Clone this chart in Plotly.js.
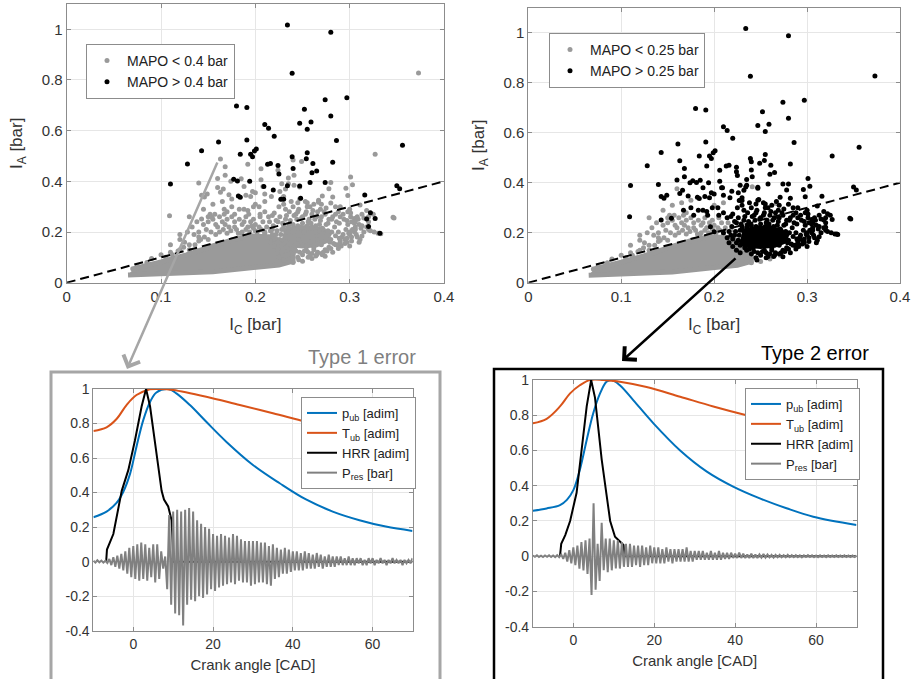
<!DOCTYPE html>
<html><head><meta charset="utf-8">
<script src="https://cdn.plot.ly/plotly-3.0.1.min.js"></script>
<style>html,body{margin:0;padding:0;background:#fff}#chart{width:912px;height:679px}</style>
</head><body><div id="chart"></div>
<script>
// ---------- scatter data: I_C [bar] vs I_A [bar] ----------
// MAPO > 0.4 bar (black in both panels)
const highIC = [0.234,0.280,0.239,0.180,0.191,0.274,0.297,0.252,0.280,0.247,0.259,0.255,0.210,0.214,0.220,0.191,0.286,0.356,0.161,0.143,0.128,0.110,0.184,0.195,0.197,0.199,0.201,0.213,0.216,0.224,0.240,0.254,0.255,0.261,0.260,0.265,0.282,0.239,0.225,0.177,0.181,0.194,0.209,0.234,0.247,0.258,0.274,0.219,0.182,0.184,0.227,0.230,0.248,0.316,0.350,0.353,0.322,0.318,0.327,0.320,0.332];
const highIA = [1.017,0.988,0.826,0.697,0.691,0.722,0.730,0.684,0.658,0.629,0.634,0.605,0.624,0.609,0.578,0.563,0.561,0.542,0.555,0.521,0.468,0.389,0.507,0.507,0.497,0.520,0.528,0.467,0.470,0.462,0.451,0.489,0.513,0.470,0.434,0.441,0.475,0.497,0.429,0.408,0.401,0.400,0.380,0.383,0.382,0.395,0.395,0.366,0.342,0.337,0.329,0.329,0.333,0.346,0.383,0.371,0.276,0.251,0.253,0.222,0.195];
// 0.25 < MAPO < 0.4 bar
const midIC = [0.373,0.327,0.347,0.163,0.168,0.192,0.206,0.224,0.140,0.160,0.168,0.185,0.174,0.206,0.143,0.146,0.149,0.163,0.166,0.172,0.188,0.190,0.195,0.197,0.200,0.208,0.210,0.217,0.226,0.228,0.232,0.235,0.109,0.143,0.154,0.167,0.175,0.178,0.183,0.188,0.192,0.193,0.198,0.204,0.205,0.210,0.214,0.218,0.220,0.196,0.200,0.210,0.214,0.216,0.220,0.224,0.228,0.240,0.249,0.241,0.235,0.301,0.280,0.247,0.303,0.296,0.278,0.271,0.282,0.298,0.230,0.247,0.253,0.267,0.280,0.311,0.269,0.288,0.301,0.313,0.318,0.325,0.305,0.318,0.322,0.326,0.330,0.333,0.313,0.346,0.274,0.246,
 0.225,0.230,0.232,0.236,0.240,0.243,0.246,0.250,0.254,0.258,0.260,0.263,0.266,0.270,0.274,0.278,0.282,0.286,0.290,0.294,0.298,0.302,0.306,0.310,0.296,0.300,0.305,0.308,0.292,0.288,0.284,0.290,0.295,0.285,0.280,0.276,0.272,0.268,0.264,0.260,0.256,0.252,0.248,0.244,0.240,0.236,0.232,0.228,0.224,0.222,0.226,0.230,0.234,0.238,0.242,0.246,0.250,0.254,0.258,0.262,0.266,0.270,0.274,0.278,0.282,0.270,0.260,0.250,0.240,0.235,0.245,0.288,0.300,0.310,0.315,0.312,0.320,0.315,0.308,0.298,0.285,0.275,0.262,0.255,0.245,0.238,0.228,0.295,0.302,0.306,0.256,0.264,
 0.216,0.219,0.222,0.226,0.229,0.233,0.237,0.241,0.245,0.249,0.253,0.257,0.261,0.265,0.269,0.273,0.277,0.281,0.285,0.289,0.293,0.297,0.301,0.305,0.309,0.313,0.303,0.299,0.307,0.311,0.297,0.293,0.289,0.285,0.281,0.277,0.283,0.279,0.287,0.291,0.297,0.302,0.276,0.272,0.266,0.262,0.256,0.252,0.247,0.243,0.238,0.233,0.228,0.224,0.220,0.218,0.223,0.227,0.231,0.271,0.275,0.268,0.264,0.259,0.255,0.250,0.245,0.240,0.235,0.230,0.258,0.265,0.280,0.290,0.300,0.306,0.300,0.290,0.270,0.255,0.320,0.320];
const midIA = [0.827,0.507,0.255,0.488,0.457,0.467,0.450,0.444,0.393,0.411,0.424,0.410,0.400,0.406,0.345,0.338,0.350,0.357,0.370,0.347,0.380,0.345,0.340,0.360,0.355,0.380,0.350,0.340,0.360,0.390,0.370,0.390,0.264,0.251,0.258,0.290,0.300,0.270,0.290,0.290,0.285,0.270,0.300,0.300,0.270,0.280,0.260,0.265,0.275,0.224,0.204,0.200,0.180,0.160,0.145,0.130,0.120,0.484,0.478,0.424,0.413,0.417,0.395,0.378,0.386,0.373,0.371,0.342,0.338,0.344,0.340,0.330,0.320,0.325,0.314,0.307,0.290,0.280,0.275,0.270,0.285,0.270,0.253,0.220,0.205,0.200,0.195,0.193,0.184,0.258,0.104,0.091,
 0.300,0.310,0.290,0.280,0.300,0.270,0.290,0.260,0.280,0.300,0.270,0.250,0.280,0.260,0.270,0.250,0.260,0.240,0.260,0.250,0.230,0.240,0.220,0.230,0.210,0.190,0.200,0.180,0.180,0.200,0.220,0.165,0.155,0.150,0.170,0.190,0.210,0.230,0.200,0.220,0.240,0.200,0.220,0.250,0.200,0.230,0.250,0.210,0.240,0.190,0.170,0.155,0.180,0.160,0.140,0.170,0.150,0.130,0.160,0.140,0.170,0.150,0.130,0.140,0.120,0.115,0.115,0.110,0.115,0.130,0.100,0.135,0.145,0.160,0.200,0.215,0.240,0.255,0.260,0.280,0.300,0.295,0.310,0.300,0.315,0.320,0.330,0.170,0.180,0.210,0.100,0.105,
 0.205,0.225,0.245,0.260,0.235,0.265,0.245,0.265,0.280,0.255,0.270,0.250,0.285,0.260,0.245,0.280,0.235,0.250,0.270,0.235,0.270,0.245,0.260,0.235,0.250,0.225,0.210,0.195,0.190,0.170,0.175,0.190,0.175,0.185,0.200,0.205,0.155,0.160,0.150,0.145,0.160,0.165,0.125,0.120,0.120,0.130,0.120,0.125,0.120,0.125,0.135,0.140,0.150,0.160,0.175,0.190,0.205,0.190,0.210,0.215,0.230,0.205,0.225,0.235,0.225,0.235,0.225,0.230,0.220,0.225,0.105,0.110,0.135,0.155,0.200,0.240,0.290,0.300,0.310,0.315,0.260,0.210];
// MAPO < 0.25 bar (gray in both panels)
const lowIC = [0.110,0.120,0.125,0.130,0.135,0.140,0.142,0.145,0.148,0.150,0.152,0.155,0.157,0.160,0.162,0.165,0.167,0.170,0.172,0.175,0.178,0.180,0.183,0.186,0.190,0.192,0.195,0.198,0.200,0.204,0.208,0.212,0.215,0.218,0.120,0.128,0.133,0.138,0.110,0.100,0.090,0.085,0.075,0.070,0.160,0.241,0.267,0.145,0.155,0.165,0.175,0.130,0.200,0.210,0.225,0.230,0.235,0.240,0.250,0.260,0.271,0.120,0.140,0.185,
 0.105,0.112,0.118,0.124,0.130,0.136,0.140,0.146,0.150,0.153,0.158,0.162,0.166,0.170,0.174,0.178,0.182,0.186,0.190,0.194,0.198,0.202,0.206,0.210,0.158,0.168,0.188,0.150,0.170,0.205];
const lowIA = [0.120,0.130,0.160,0.150,0.190,0.200,0.170,0.230,0.210,0.240,0.270,0.250,0.270,0.220,0.260,0.240,0.270,0.250,0.220,0.260,0.240,0.210,0.250,0.230,0.260,0.220,0.240,0.250,0.230,0.220,0.240,0.220,0.240,0.210,0.190,0.200,0.220,0.240,0.150,0.110,0.095,0.080,0.065,0.055,0.376,0.384,0.317,0.290,0.310,0.320,0.330,0.260,0.310,0.320,0.100,0.090,0.110,0.080,0.085,0.095,0.110,0.170,0.180,0.195,
 0.100,0.110,0.125,0.140,0.130,0.150,0.165,0.180,0.170,0.200,0.190,0.200,0.210,0.195,0.205,0.220,0.195,0.200,0.210,0.200,0.215,0.200,0.210,0.195,0.230,0.230,0.240,0.260,0.280,0.260];
// outline of the densest part of each cloud
const lowCoreIC = [0.065,0.106,0.155,0.198,0.225,0.240,0.240,0.235,0.215,0.195,0.175,0.155,0.127,0.100,0.071];
const lowCoreIA = [0.030,0.036,0.043,0.060,0.070,0.085,0.120,0.155,0.180,0.185,0.168,0.145,0.110,0.082,0.055];
const midCoreIC = [0.228,0.235,0.250,0.265,0.275,0.278,0.270,0.255,0.240,0.230];
const midCoreIA = [0.170,0.150,0.145,0.150,0.165,0.190,0.210,0.218,0.215,0.200];
// reference line I_A = I_C
const refIC = [0, 0.4];
const refIA = [0, 0.4];

// ---------- cycle traces vs crank angle [CAD] ----------
const pLeftCA = [-10,-6.7,-4.2,-2.5,-0.8,0.8,2.5,4.2,5.8,8.75,10.8,14.2,18.3,23.3,30,36.7,43.3,50,56.7,63.3,70];
const pLeft   = [0.257,0.29,0.34,0.405,0.51,0.666,0.82,0.925,0.98,1.0,0.975,0.907,0.81,0.695,0.56,0.454,0.36,0.29,0.24,0.203,0.178];
const tLeftCA = [-10,-6.7,-4.2,-1.7,0.8,4.2,6.7,10,18.3,26.7,35,43.3,51.7,60,70];
const tLeft   = [0.757,0.778,0.826,0.907,0.965,0.998,1.0,0.994,0.955,0.907,0.86,0.81,0.766,0.728,0.689];
const hrrLeftCA = [-6.8,-6.6,-5.0,-2.9,-1.25,0.4,2.1,3.2,4.2,5.4,7.1,7.7,8.75,9.6,10.1,70];
const hrrLeft   = [0,0.07,0.16,0.41,0.53,0.70,0.9,1.0,0.9,0.7,0.41,0.36,0.32,0.24,0,0];
// P_res sampled every 0.5 CAD from -10 to 70
const presLeft = [
 0.005,-0.005,0.008,-0.004,0.006,-0.006,0.005,-0.008,
 0.015,-0.02,0.025,-0.03,0.035,-0.04,0.045,-0.05,
 0.06,-0.07,0.08,-0.09,0.09,-0.1,0.1,-0.11,
 0.11,-0.1,0.1,-0.11,0.08,-0.09,0.1,-0.12,
 0.1,-0.1,0.06,-0.04,0.03,-0.16,0.27,-0.25,
 0.29,-0.3,0.3,-0.31,0.29,-0.37,0.3,-0.25,
 0.31,-0.22,0.29,-0.23,0.24,-0.2,0.22,-0.21,
 0.2,-0.19,0.19,-0.16,0.16,-0.17,0.15,-0.15,
 0.16,-0.14,0.15,-0.13,0.14,-0.12,0.16,-0.13,
 0.15,-0.11,0.13,-0.12,0.12,-0.12,0.12,-0.14,
 0.12,-0.13,0.12,-0.12,0.11,-0.12,0.11,-0.13,
 0.09,-0.14,0.1,-0.1,0.08,-0.09,0.07,-0.07,
 0.08,-0.07,0.07,-0.06,0.06,-0.05,0.06,-0.05,
 0.05,-0.05,0.06,-0.04,0.05,-0.04,0.04,-0.04,
 0.05,-0.03,0.04,-0.04,0.03,-0.03,0.04,-0.03,
 0.03,-0.03,0.03,-0.02,0.03,-0.02,0.02,-0.02,
 0.03,-0.02,0.02,-0.02,0.02,-0.01,0.02,-0.02,
 0.01,-0.02,0.02,-0.01,0.02,-0.02,0.01,-0.01,
 0.02,-0.01,0.01,-0.02,0.01,-0.01,0.02,-0.01,
 0.01,-0.01,0.01,-0.02,0.01,-0.01,0.01,-0.01,
 0.02];

const pRightCA = [-10,-6.6,-3.3,-1.6,0,1.6,3.3,4.9,6.6,8.2,9.5,11.5,14.8,19.8,26.4,33,39.5,46.1,52.7,59.3,70];
const pRight   = [0.258,0.271,0.29,0.32,0.375,0.49,0.66,0.81,0.924,0.99,1.0,0.97,0.886,0.754,0.6,0.48,0.395,0.328,0.272,0.224,0.177];
const tRightCA = [-10,-6.6,-3.3,-0.8,1.6,4.1,7.4,11.5,18.1,26.4,34.6,42.8,51,59.3,70];
const tRight   = [0.754,0.78,0.85,0.924,0.97,1.0,1.0,0.99,0.96,0.905,0.85,0.8,0.754,0.72,0.688];
const hrrRightCA = [-3.3,-3.0,-2.0,-0.8,0.8,1.8,3.3,4.4,5.35,6.2,7.0,8.2,9.1,10.3,12.4,12.7,70];
const hrrRight   = [0,0.07,0.12,0.2,0.36,0.55,0.85,1.0,0.9,0.72,0.55,0.35,0.2,0.11,0.064,0,0];
const presRight = [
 0.004,-0.003,0.005,-0.004,0.003,-0.005,0.004,-0.003,
 0.005,-0.004,0.004,-0.005,0.006,-0.006,0.01,-0.015,
 0.02,-0.03,0.035,-0.04,0.05,-0.05,0.06,-0.07,
 0.08,-0.08,0.09,-0.1,0.1,-0.22,0.3,-0.19,
 0.07,-0.14,0.19,-0.08,0.1,-0.09,0.1,-0.08,
 0.09,-0.07,0.09,-0.07,0.08,-0.06,0.07,-0.06,
 0.07,-0.06,0.06,-0.05,0.06,-0.06,0.06,-0.05,
 0.05,-0.05,0.06,-0.04,0.05,-0.04,0.05,-0.04,
 0.04,-0.04,0.05,-0.03,0.04,-0.04,0.04,-0.03,
 0.04,-0.03,0.04,-0.03,0.05,-0.03,0.03,-0.03,
 0.03,-0.02,0.03,-0.02,0.03,-0.02,0.02,-0.02,
 0.03,-0.02,0.02,-0.02,0.03,-0.02,0.02,-0.015,
 0.02,-0.015,0.02,-0.01,0.015,-0.01,0.02,-0.01,
 0.015,-0.01,0.01,-0.01,0.015,-0.01,0.01,-0.01,
 0.01,-0.008,0.012,-0.008,0.01,-0.006,0.008,-0.008,
 0.008,-0.006,0.008,-0.006,0.006,-0.006,0.008,-0.005,
 0.006,-0.005,0.006,-0.005,0.005,-0.006,0.005,-0.004,
 0.006,-0.004,0.005,-0.005,0.004,-0.005,0.005,-0.004,
 0.004,-0.005,0.005,-0.004,0.004,-0.004,0.005,-0.004,
 0.004,-0.004,0.005,-0.004,0.004,-0.005,0.004,-0.004,
 0.004];

const bottomYTicks = [-0.4,-0.2,0,0.2,0.4,0.6,0.8,1];
const bottomYLabels = ['-0.4','-0.2','0','0.2','0.4','0.6','0.8','1'];

// ---------- drawing ----------
const W = 912, H = 679;
const px = v => v / W;
const py = v => 1 - v / H;
const GRAY = '#9a9a9a';
const FONT = 'Liberation Sans, Arial, sans-serif';
const ms = 5;

function corePoly(xs, ys, color, xa, ya) {
  return {x: xs, y: ys, xaxis: xa, yaxis: ya, type: 'scatter', mode: 'lines', fill: 'toself',
    fillcolor: color, line: {color: color, width: 5}, showlegend: false, hoverinfo: 'skip'};
}
function dots(xs, ys, color, name, xa, ya, lg) {
  return {x: xs, y: ys, xaxis: xa, yaxis: ya, type: 'scatter', mode: 'markers', name: name,
    marker: {color: color, size: ms}, legend: lg};
}
function refLine(xa, ya) {
  return {x: refIC, y: refIA, xaxis: xa, yaxis: ya, type: 'scatter', mode: 'lines',
    line: {color: '#000', width: 2, dash: '9px,5px'}, showlegend: false, hoverinfo: 'skip'};
}
function curve(xs, ys, color, name, xa, ya, lg, shape) {
  return {x: xs, y: ys, xaxis: xa, yaxis: ya, type: 'scatter', mode: 'lines', name: name,
    line: {color: color, width: 2, shape: shape || 'spline'}, legend: lg};
}
function pres(ys, xa, ya, lg) {
  return {y: ys, x0: -10, dx: 0.5, xaxis: xa, yaxis: ya, type: 'scatter', mode: 'lines',
    name: 'P<sub>res</sub> [bar]', line: {color: '#808080', width: 2}, legend: lg};
}

const traces = [
  // top-left
  corePoly(lowCoreIC, lowCoreIA, GRAY, 'x', 'y'),
  corePoly(midCoreIC, midCoreIA, GRAY, 'x', 'y'),
  dots(lowIC.concat(midIC), lowIA.concat(midIA), GRAY, 'MAPO < 0.4 bar', 'x', 'y', 'legend'),
  refLine('x', 'y'),
  dots(highIC, highIA, '#000', 'MAPO > 0.4 bar', 'x', 'y', 'legend'),
  // top-right
  corePoly(lowCoreIC, lowCoreIA, GRAY, 'x2', 'y2'),
  dots(lowIC, lowIA, GRAY, 'MAPO < 0.25 bar', 'x2', 'y2', 'legend2'),
  corePoly(midCoreIC, midCoreIA, '#000', 'x2', 'y2'),
  refLine('x2', 'y2'),
  dots(midIC.concat(highIC), midIA.concat(highIA), '#000', 'MAPO > 0.25 bar', 'x2', 'y2', 'legend2'),
  // bottom-left
  curve(pLeftCA, pLeft, '#0072BD', 'p<sub>ub</sub> [adim]', 'x3', 'y3', 'legend3'),
  curve(tLeftCA, tLeft, '#D95319', 'T<sub>ub</sub> [adim]', 'x3', 'y3', 'legend3'),
  curve(hrrLeftCA, hrrLeft, '#000', 'HRR [adim]', 'x3', 'y3', 'legend3', 'linear'),
  pres(presLeft, 'x3', 'y3', 'legend3'),
  // bottom-right
  curve(pRightCA, pRight, '#0072BD', 'p<sub>ub</sub> [adim]', 'x4', 'y4', 'legend4'),
  curve(tRightCA, tRight, '#D95319', 'T<sub>ub</sub> [adim]', 'x4', 'y4', 'legend4'),
  curve(hrrRightCA, hrrRight, '#000', 'HRR [adim]', 'x4', 'y4', 'legend4', 'linear'),
  pres(presRight, 'x4', 'y4', 'legend4')
];

const ax = {showline: true, mirror: 'ticks', linecolor: '#8c8c8c', linewidth: 1, ticks: 'inside',
  ticklen: 4, tickcolor: '#8c8c8c', showgrid: true, gridcolor: '#e6e6e6', zeroline: false,
  tickfont: {size: 15, color: '#333', family: FONT}};
const axB = Object.assign({}, ax, {tickfont: {size: 14, color: '#333', family: FONT}});
const titleFont = {size: 17, color: '#333', family: FONT};

const legendBase = {bgcolor: '#fff', bordercolor: '#8c8c8c', borderwidth: 1, xanchor: 'left', yanchor: 'top',
  font: {size: 14, color: '#222', family: FONT}, tracegroupgap: 0, itemwidth: 30};

const layout = {
  width: W, height: H, margin: {l: 0, r: 0, t: 0, b: 0},
  paper_bgcolor: '#fff', plot_bgcolor: '#fff', font: {family: FONT},
  xaxis: Object.assign({}, ax, {domain: [px(66.7), px(444)], range: [0, 0.4], tick0: 0, dtick: 0.1, anchor: 'y',
    title: {text: 'I<sub>C</sub> [bar]', font: titleFont, standoff: 14}}),
  yaxis: Object.assign({}, ax, {domain: [py(282.7), py(3.9)], range: [0, 1.1], tick0: 0, dtick: 0.2, anchor: 'x',
    title: {text: 'I<sub>A</sub> [bar]', font: titleFont, standoff: 14}}),
  xaxis2: Object.assign({}, ax, {domain: [px(528.3), px(900)], range: [0, 0.4], tick0: 0, dtick: 0.1, anchor: 'y2',
    title: {text: 'I<sub>C</sub> [bar]', font: titleFont, standoff: 14}}),
  yaxis2: Object.assign({}, ax, {domain: [py(282.7), py(7.7)], range: [0, 1.1], tick0: 0, dtick: 0.2, anchor: 'x2',
    title: {text: 'I<sub>A</sub> [bar]', font: titleFont, standoff: 14}}),
  xaxis3: Object.assign({}, axB, {domain: [px(93.4), px(412.5)], range: [-10, 70], tick0: 0, dtick: 20, anchor: 'y3',
    title: {text: 'Crank angle [CAD]', font: {size: 15, color: '#333', family: FONT}, standoff: 8}}),
  yaxis3: Object.assign({}, axB, {domain: [py(630.7), py(389)], range: [-0.4, 1], tickvals: bottomYTicks, ticktext: bottomYLabels, anchor: 'x3'}),
  xaxis4: Object.assign({}, axB, {domain: [px(532.9), px(856.5)], range: [-10, 70], tick0: 0, dtick: 20, anchor: 'y4',
    title: {text: 'Crank angle [CAD]', font: {size: 15, color: '#333', family: FONT}, standoff: 8}}),
  yaxis4: Object.assign({}, axB, {domain: [py(626.7), py(380)], range: [-0.4, 1], tickvals: bottomYTicks, ticktext: bottomYLabels, anchor: 'x4'}),
  legend: Object.assign({}, legendBase, {x: px(86), y: py(44)}),
  legend2: Object.assign({}, legendBase, {x: px(549), y: py(33)}),
  legend3: Object.assign({}, legendBase, {x: px(301), y: py(397), font: {size: 13, color: '#222', family: FONT}}),
  legend4: Object.assign({}, legendBase, {x: px(745), y: py(388), font: {size: 13, color: '#222', family: FONT}}),
  shapes: [
    {type: 'rect', xref: 'paper', yref: 'paper', x0: px(51), x1: px(440), y0: py(700), y1: py(372),
      line: {color: '#a6a6a6', width: 3}},
    {type: 'rect', xref: 'paper', yref: 'paper', x0: px(494), x1: px(883), y0: py(700), y1: py(369),
      line: {color: '#000', width: 2.5}}
  ],
  annotations: [
    {xref: 'paper', yref: 'paper', x: px(362), y: py(357), xanchor: 'center', yanchor: 'middle', showarrow: false,
      text: 'Type 1 error', font: {size: 20, color: '#7f7f7f', family: FONT}},
    {xref: 'paper', yref: 'paper', x: px(815), y: py(353), xanchor: 'center', yanchor: 'middle', showarrow: false,
      text: 'Type 2 error', font: {size: 20, color: '#000', family: FONT}},
    {xref: 'paper', yref: 'paper', x: px(127), y: py(369), ax: 91, ay: -208, text: '', showarrow: true,
      arrowcolor: '#a6a6a6', arrowwidth: 2.5, arrowhead: 4, arrowsize: 1.4},
    {xref: 'paper', yref: 'paper', x: px(622), y: py(361), ax: 115, ay: -104, text: '', showarrow: true,
      arrowcolor: '#000', arrowwidth: 2.5, arrowhead: 4, arrowsize: 1.4}
  ]
};

Plotly.newPlot('chart', traces, layout, {displayModeBar: false, staticPlot: true});
</script>
</body></html>
